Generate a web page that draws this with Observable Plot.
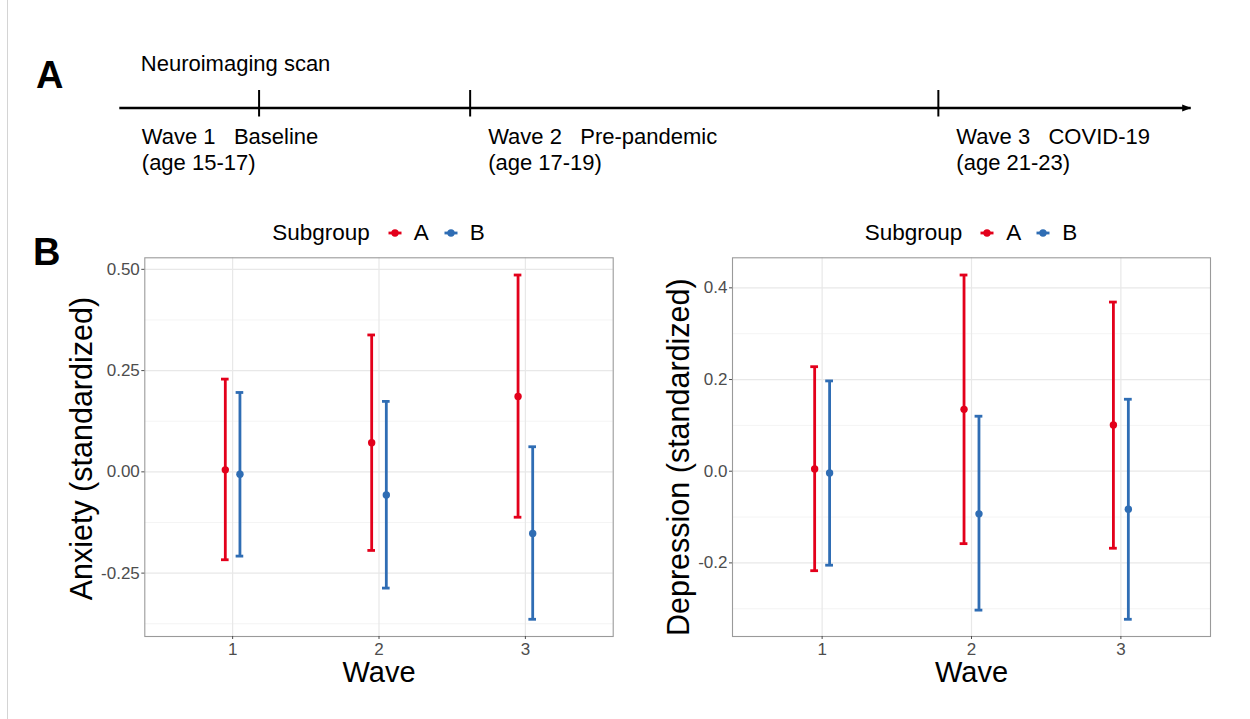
<!DOCTYPE html>
<html><head><meta charset="utf-8">
<script src="https://cdn.jsdelivr.net/npm/d3@7"></script>
<script src="https://cdn.jsdelivr.net/npm/@observablehq/plot@0.6"></script>
<style>
body{margin:0;background:#fff;}
#root{position:relative;width:1250px;height:719px;overflow:hidden;font-family:"Liberation Sans",Arial,Helvetica,sans-serif;background:#fff;}
#root > svg{position:absolute;max-width:none;}
.tag{position:absolute;font-weight:bold;font-size:38px;line-height:38px;color:#000;}
.legend{position:absolute;display:flex;justify-content:center;align-items:center;height:26px;font-size:22.5px;line-height:26px;color:#000;white-space:nowrap;}
.vline{position:absolute;left:7px;top:0;width:1px;height:719px;background:#d4d4d4;}
</style></head>
<body><div id="root"><div class="vline"></div></div>
<script>
// ---------------- data ----------------
const waves = [1, 2, 3];
const subgroups = ["A", "B"];
const subgroupColors = ["#e3001b", "#2f6db4"];
const legendTitle = "Subgroup";
const xTitle = "Wave";

// Anxiety (standardized): mean and 95% CI per wave
const anxietyMeanA = [0.005, 0.072, 0.186];
const anxietyLowA  = [-0.217, -0.194, -0.112];
const anxietyHighA = [0.229, 0.338, 0.486];
const anxietyMeanB = [-0.006, -0.057, -0.152];
const anxietyLowB  = [-0.208, -0.287, -0.364];
const anxietyHighB = [0.196, 0.174, 0.062];
const anxietyTicks = [-0.25, 0, 0.25, 0.5];
const anxietyMinorTicks = [-0.375, -0.125, 0.125, 0.375];

// Depression (standardized)
const depressionMeanA = [0.005, 0.135, 0.101];
const depressionLowA  = [-0.217, -0.158, -0.168];
const depressionHighA = [0.228, 0.428, 0.369];
const depressionMeanB = [-0.004, -0.093, -0.083];
const depressionLowB  = [-0.205, -0.303, -0.323];
const depressionHighB = [0.197, 0.120, 0.157];
const depressionTicks = [-0.2, 0, 0.2, 0.4];
const depressionMinorTicks = [-0.3, -0.1, 0.1, 0.3];

// Timeline (panel A): positions in % along the time arrow
const scanLabel = "Neuroimaging scan";
const waveNames = ["Wave 1", "Wave 2", "Wave 3"];
const wavePhases = ["Baseline", "Pre-pandemic", "COVID-19"];
const waveAgeRanges = ["(age 15-17)", "(age 17-19)", "(age 21-23)"];
const wavePositions = [13.0, 32.7, 76.4];
const timelineSpan = [0, 100];

// ---------------- drawing ----------------
const FONT = '"Liberation Sans", Arial, Helvetica, sans-serif';
const root = d3.select("#root");
const dodge = 0.05, capHalf = 0.026;

// Panel A: timeline
const timeline = waves.map((w, i) => ({
  wave: w, pos: wavePositions[i],
  label: `${waveNames[i]}   ${wavePhases[i]}\n${waveAgeRanges[i]}`
}));
const arrowHead = {draw(ctx) { ctx.moveTo(5, 0); ctx.lineTo(-4, -3.6); ctx.lineTo(-4, 3.6); ctx.closePath(); }};
const panelA = Plot.plot({
  width: 1250, height: 215, marginTop: 0, marginBottom: 0, marginLeft: 119.3, marginRight: 59.3,
  x: {domain: timelineSpan, axis: null},
  y: {domain: [-1, 1], axis: null},
  style: {fontFamily: FONT, background: "transparent", overflow: "visible"},
  marks: [
    Plot.ruleY([0], {x1: timelineSpan[0], x2: timelineSpan[1], stroke: "#000", strokeWidth: 2.6}),
    Plot.dot([0], {x: timelineSpan[1], y: 0, symbol: arrowHead, fill: "#000", stroke: "none", dx: -5}),
    Plot.ruleX(timeline, {x: "pos", insetTop: 90, insetBottom: 98.5, stroke: "#000", strokeWidth: 2}),
    Plot.text([scanLabel], {x: timelineSpan[0], y: 0, text: d => d, textAnchor: "start", lineAnchor: "bottom", dx: 21, dy: -37.5, fontSize: 22, fill: "#000"}),
    Plot.text(timeline.slice(0, 1), {x: () => timelineSpan[0], y: 0, text: "label", textAnchor: "start", lineAnchor: "bottom", lineHeight: 1.2, dx: 22, dy: 62, fontSize: 22, fill: "#000"}),
    Plot.text(timeline.slice(1), {x: "pos", y: 0, text: "label", textAnchor: "start", lineAnchor: "bottom", lineHeight: 1.2, dx: 18, dy: 62, fontSize: 22, fill: "#000"})
  ]
});
d3.select(panelA).style("left", "0px").style("top", "0px");
root.node().appendChild(panelA);

function errorPlot({means, lows, highs, ticks, minor, fmt, yTitle, left, marginLeft, marginRight, titleDx, titleDy}) {
  const rows = [];
  waves.forEach((w, i) => subgroups.forEach((g, j) =>
    rows.push({wave: w, group: g, mean: means[j][i], lo: lows[j][i], hi: highs[j][i]})));
  const lo = d3.min(rows, d => d.lo), hi = d3.max(rows, d => d.hi);
  const pad = (hi - lo) * 0.05;
  const xd = d => d.wave + (d.group === subgroups[0] ? -dodge : dodge);
  const width = 625;
  const p = Plot.plot({
    width, height: 450, marginTop: 7.3, marginBottom: 64, marginLeft, marginRight,
    x: {domain: [0.4, 3.6]},
    y: {domain: [lo - pad, hi + pad]},
    color: {domain: subgroups, range: subgroupColors},
    style: {fontFamily: FONT, background: "transparent", overflow: "visible"},
    marks: [
      Plot.gridY(minor, {stroke: "#f3f3f3", strokeOpacity: 1, strokeWidth: 0.9}),
      Plot.gridY(ticks, {stroke: "#e8e8e8", strokeOpacity: 1, strokeWidth: 1.2}),
      Plot.gridX(waves, {stroke: "#e8e8e8", strokeOpacity: 1, strokeWidth: 1.2}),
      Plot.frame({stroke: "#9a9a9a", strokeWidth: 1.1}),
      Plot.axisX(waves, {tickFormat: d => String(d), tickSize: 3, tickPadding: 3.7, fontSize: 17, color: "#4d4d4d", label: null}),
      Plot.axisY(ticks, {tickFormat: fmt, tickSize: 3, tickPadding: 2, fontSize: 17, color: "#4d4d4d", label: null}),
      Plot.ruleX(rows, {x: xd, y1: "lo", y2: "hi", stroke: "group", strokeWidth: 2.8}),
      Plot.ruleY(rows, {y: "hi", x1: d => xd(d) - capHalf, x2: d => xd(d) + capHalf, stroke: "group", strokeWidth: 2.8}),
      Plot.ruleY(rows, {y: "lo", x1: d => xd(d) - capHalf, x2: d => xd(d) + capHalf, stroke: "group", strokeWidth: 2.8}),
      Plot.dot(rows, {x: xd, y: "mean", fill: "group", r: 3.7}),
      Plot.text([xTitle], {text: d => d, frameAnchor: "bottom", lineAnchor: "bottom", dy: 45, fontSize: 29, fill: "#000"}),
      Plot.text([yTitle], {text: d => d, frameAnchor: "left", textAnchor: "middle", rotate: -90, dx: titleDx, dy: titleDy, fontSize: 30.5, fill: "#000"})
    ]
  });
  d3.select(p).style("left", left + "px").style("top", "250px");
  root.node().appendChild(p);

  // legend above the panel
  const frameLeft = left + marginLeft, frameWidth = width - marginLeft - marginRight;
  const lg = root.append("div").attr("class", "legend")
    .style("left", frameLeft + "px").style("width", frameWidth + "px").style("top", "220px");
  lg.append("span").text(legendTitle).style("margin-right", "18px");
  subgroups.forEach((g, i) => {
    const s = lg.append("svg").attr("width", 14).attr("height", 14).style("margin-left", i ? "15px" : "0px").style("overflow", "visible");
    s.append("line").attr("x1", 0.5).attr("x2", 13.5).attr("y1", 7).attr("y2", 7).attr("stroke", subgroupColors[i]).attr("stroke-width", 2.8);
    s.append("circle").attr("cx", 7).attr("cy", 7).attr("r", 3.7).attr("fill", subgroupColors[i]);
    lg.append("span").text(g).style("margin-left", "12px");
  });
}

errorPlot({
  means: [anxietyMeanA, anxietyMeanB], lows: [anxietyLowA, anxietyLowB], highs: [anxietyHighA, anxietyHighB],
  ticks: anxietyTicks, minor: anxietyMinorTicks, fmt: d => d.toFixed(2),
  yTitle: "Anxiety (standardized)", left: 0, marginLeft: 144.3, marginRight: 12.3, titleDx: -62.3, titleDy: 1.5
});
errorPlot({
  means: [depressionMeanA, depressionMeanB], lows: [depressionLowA, depressionLowB], highs: [depressionHighA, depressionHighB],
  ticks: depressionTicks, minor: depressionMinorTicks, fmt: d => d.toFixed(1),
  yTitle: "Depression (standardized)", left: 625, marginLeft: 107, marginRight: 40, titleDx: -53.5, titleDy: 10
});

// panel tags
root.append("div").attr("class", "tag").style("left", "36px").style("top", "56px").text("A");
root.append("div").attr("class", "tag").style("left", "33px").style("top", "233px").text("B");
</script>
</body></html>
